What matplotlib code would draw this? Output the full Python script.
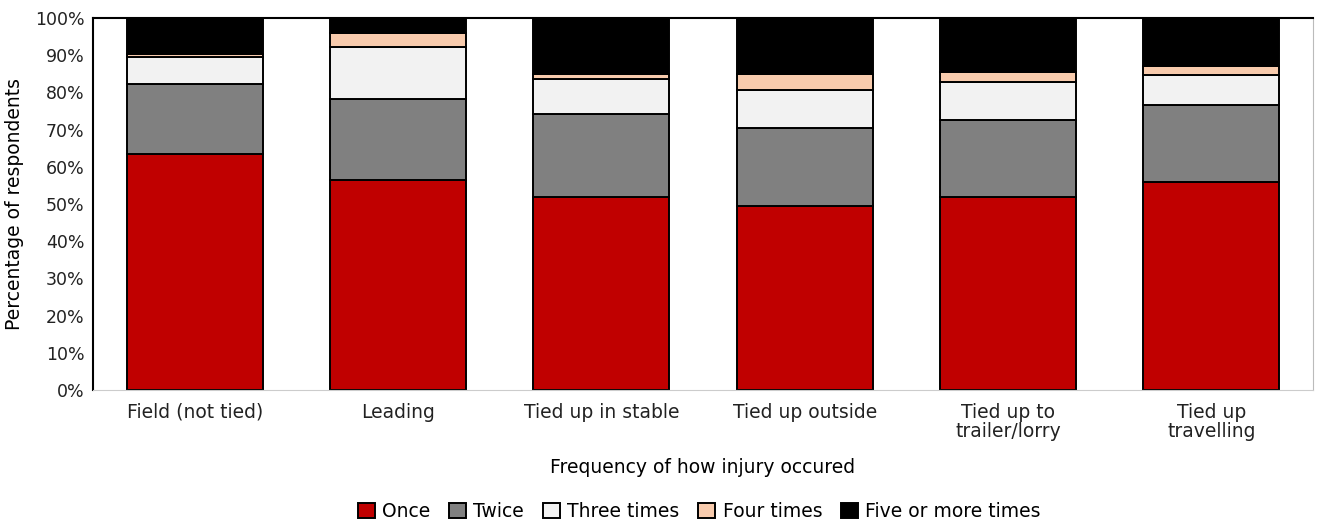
from matplotlib import pyplot as plt
import numpy as np

# Data (percent of respondents)
categories = ['Field (not tied)', 'Leading', 'Tied up in stable', 'Tied up outside',
              'Tied up to\ntrailer/lorry', 'Tied up\ntravelling']
once = [63.4, 56.5, 51.9, 49.5, 51.9, 55.9]
twice = [18.9, 21.7, 22.2, 20.9, 20.6, 20.6]
three_times = [7.1, 14.1, 9.6, 10.2, 10.2, 8.3]
four_times = [0.9, 3.6, 1.3, 4.4, 2.9, 2.3]
five_plus = [9.7, 4.1, 15.0, 15.0, 14.4, 12.9]

series = [('Once', once, '#C00000'),
          ('Twice', twice, '#808080'),
          ('Three times', three_times, '#F2F2F2'),
          ('Four times', four_times, '#F8CBAD'),
          ('Five or more times', five_plus, '#000000')]

plt.rcParams['font.family'] = ['DejaVu Sans']

fig = plt.figure(figsize=(13.17, 5.23), dpi=100)
ax = fig.add_axes([0.0706, 0.2543, 0.9264, 0.7113])

x = np.arange(len(categories))
bottom = np.zeros(len(categories))
for label, vals, color in series:
    ax.bar(x, vals, bottom=bottom, width=0.67, color=color, edgecolor='black',
           linewidth=1.4, label=label)
    bottom += np.array(vals)

fs = 13.5
ax.set_xlim(-0.5, 5.5)
ax.set_ylim(0, 100)
ax.set_yticks(np.arange(0, 101, 10))
ax.set_yticklabels([f'{v}%' for v in range(0, 101, 10)], fontsize=12.5)
ax.set_xticks(x)
ax.set_xticklabels(categories, fontsize=fs, linespacing=1.05)
ax.tick_params(axis='x', length=0, pad=9, colors='#222222')
ax.tick_params(axis='y', length=0, pad=6, colors='#222222')

ax.spines['left'].set_color('black')
ax.spines['left'].set_linewidth(1.5)
ax.spines['top'].set_color('black')
ax.spines['top'].set_linewidth(1.5)
ax.spines['right'].set_color('#BBBBBB')
ax.spines['bottom'].set_color('#CCCCCC')

ax.set_ylabel('Percentage of respondents', fontsize=fs, labelpad=8)
ax.set_xlabel('Frequency of how injury occured', fontsize=fs, labelpad=12)

fig.legend(loc='center', bbox_to_anchor=(0.531, 0.022), ncol=5, frameon=False,
           fontsize=fs, handlelength=0.9, handleheight=0.9, handletextpad=0.4,
           columnspacing=1.0)

fig.savefig('out.png', dpi=100)
